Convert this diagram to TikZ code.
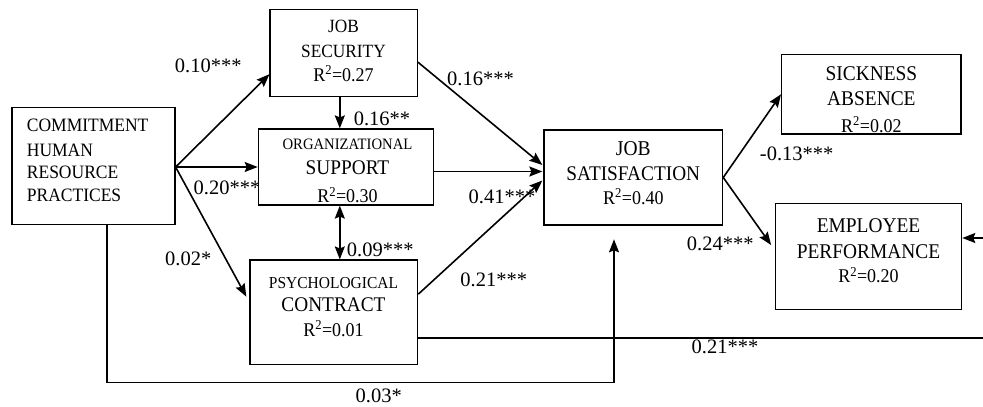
\documentclass[tikz,border=0pt]{standalone}
\usepackage{fontspec}
\setmainfont{Liberation Serif}
\usetikzlibrary{arrows.meta,calc}
\newcommand\tline[6][base]{\node[font=\fontsize{#5}{#5}\selectfont, anchor=#1, inner sep=0pt] (#2) at ({#3},{#4+0.33*#5}) {#6};}
\newcommand\bline[6][base]{\node[font=\fontsize{#5}{#5}\selectfont, anchor=#1, inner sep=0pt] (#2) at ({#3},{#4+0.36*#5}) {\scalebox{1}[1.08]{#6}};}
\tikzset{
  boxnode/.style={draw, line width=1.2pt, inner sep=0pt},
  arr/.style={line width=1.6pt, -{Stealth[length=13pt,width=10pt,inset=2pt]}},
  darr/.style={line width=1.6pt, {Stealth[length=13pt,width=10pt,inset=2pt]}-{Stealth[length=13pt,width=10pt,inset=2pt]}},
  plain/.style={line width=1.6pt}
}
\begin{document}
\begin{tikzpicture}[x=1pt,y=-1pt]
\useasboundingbox (0,0) rectangle (983,407);
\clip (0,0) rectangle (983,407);
\fill[white] (0,0) rectangle (983,407);
% boxes
\node[boxnode, minimum width=163pt, minimum height=117pt] (chrp) at (93.5,165.7) {};
\node[boxnode, minimum width=147.3pt, minimum height=87pt] (jsec) at (343.7,53.2) {};
\node[boxnode, minimum width=175pt, minimum height=76pt] (osup) at (345.8,167) {};
\node[boxnode, minimum width=167.7pt, minimum height=104.3pt] (pcon) at (333.8,312.2) {};
\node[boxnode, minimum width=178.7pt, minimum height=95pt] (jsat) at (633.3,177.5) {};
\node[boxnode, minimum width=179.3pt, minimum height=79.7pt] (sabs) at (871.3,94.2) {};
\node[boxnode, minimum width=186pt, minimum height=106pt] (empp) at (868.7,256.3) {};
% box texts
\bline[base west]{chrp1}{26.7}{124.7}{17.5}{COMMITMENT}
\bline[base west]{chrp2}{26.7}{150}{17.5}{HUMAN}
\bline[base west]{chrp3}{26.7}{171.7}{17.5}{RESOURCE}
\bline[base west]{chrp4}{26.7}{195}{17.5}{PRACTICES}
\bline{jsec1}{343.5}{26.7}{17.3}{JOB}
\bline{jsec2}{343.5}{51.7}{17.3}{SECURITY}
\bline{jsec3}{343.5}{75}{18}{R\textsuperscript{2}=0.27}
\bline{osup1}{347.5}{144}{14.7}{ORGANIZATIONAL}
\bline{osup2}{347.5}{167.5}{19.3}{SUPPORT}
\bline{osup3}{347.5}{196.5}{18}{R\textsuperscript{2}=0.30}
\bline{pcon1}{333.5}{282.5}{15.5}{PSYCHOLOGICAL}
\bline{pcon2}{333.5}{305}{19.3}{CONTRACT}
\bline{pcon3}{333.5}{330}{18}{R\textsuperscript{2}=0.01}
\bline{jsat1}{633.3}{148}{19.5}{JOB}
\bline{jsat2}{633.3}{174}{19.3}{SATISFACTION}
\bline{jsat3}{633.3}{198}{18}{R\textsuperscript{2}=0.40}
\bline{sabs1}{871.4}{73.3}{19.4}{SICKNESS}
\bline{sabs2}{871.4}{99}{19.4}{ABSENCE}
\bline{sabs3}{871.4}{126}{18}{R\textsuperscript{2}=0.02}
\bline{empp1}{868.5}{226}{19.4}{EMPLOYEE}
\bline{empp2}{868.5}{251.5}{19.4}{PERFORMANCE}
\bline{empp3}{868.5}{276.5}{18}{R\textsuperscript{2}=0.20}
% helper coordinates
\coordinate (hub) at (chrp.east |- osup.west);
\coordinate (vx) at (339.8,0);
\coordinate (low) at (106.7,382.5);
\coordinate (up) at (614,239.3);
\coordinate (pcy) at (0,338);
\coordinate (rt1) at (1000,338);
\coordinate (rt2) at (1000,238);
% connectors
\draw[arr] (hub) -- ($(jsec.west)+(0,21)$);
\draw[arr] (hub) -- (osup.west);
\draw[arr] (hub) -- ($(pcon.west)+(-3,-15.5)$);
\draw[arr] (jsec.south -| vx) -- (osup.north -| vx);
\draw[darr] (osup.south -| vx) -- (pcon.north -| vx);
\draw[arr] ($(jsec.east)+(0,9)$) -- ($(jsat.west)+(-1,-12.5)$);
\draw[arr] ($(osup.east)+(0,4.5)$) -- ($(jsat.west)+(-1,-6)$);
\draw[arr] ($(pcon.east)+(0,-18)$) -- ($(jsat.west)+(-1,3)$);
\draw[arr] (jsat.east) -- (sabs.west);
\draw[arr] (jsat.east) -- ($(empp.west)+(-4,-11.3)$);
\draw[arr] (chrp.south -| low) -- (low) -| (up);
\draw[line width=2.4pt] (pcon.east |- pcy) -- (rt1);
\draw[arr] (rt1) -- (rt2) -- (empp.east |- rt2);
% labels
\tline{l1}{208.3}{66}{20.5}{0.10***}
\tline{l2}{227}{187.5}{20.5}{0.20***}
\tline{l3}{188.3}{258.3}{20.5}{0.02*}
\tline{l4}{382}{118.3}{20.5}{0.16**}
\tline{l5}{380.3}{249.3}{20.5}{0.09***}
\tline{l6}{480.5}{78.3}{20.5}{0.16***}
\tline{l7}{502}{196.5}{20.5}{0.41***}
\tline{l8}{493.7}{280}{20.5}{0.21***}
\tline{l9}{796.7}{153.5}{20.5}{-0.13***}
\tline{l10}{720.3}{243.3}{20.5}{0.24***}
\tline{l11}{725}{346.5}{20.5}{0.21***}
\tline{l12}{378.8}{396}{20.5}{0.03*}
\end{tikzpicture}
\end{document}
